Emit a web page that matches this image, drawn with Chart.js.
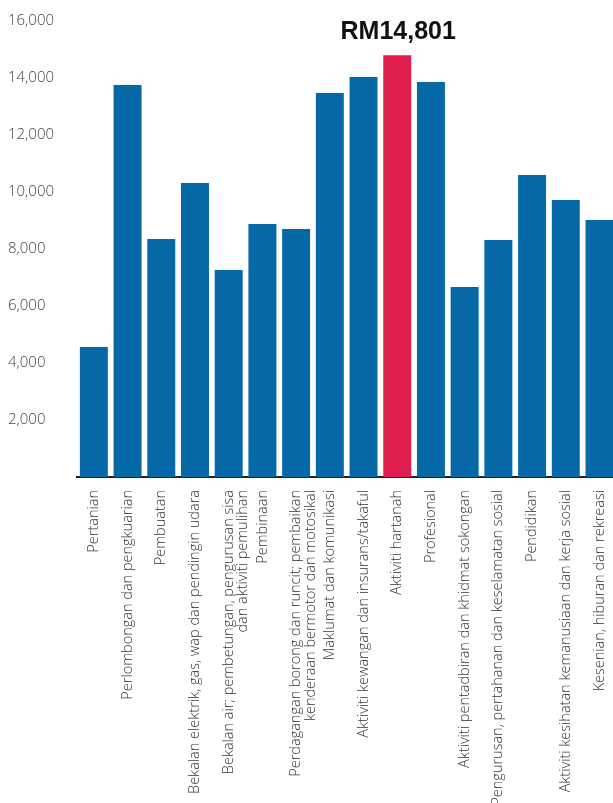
<!DOCTYPE html>
<html>
<head>
<meta charset="utf-8">
<script src="https://cdn.jsdelivr.net/npm/chart.js@4"></script>
<style>
  html, body { margin: 0; padding: 0; background: #fff; overflow: hidden; }
  #chart { display: block; }
</style>
</head>
<body>
<canvas id="chart" width="627" height="803"></canvas>
<script>
const categories = [
  'Pertanian',
  'Perlombongan dan pengkuarian',
  'Pembuatan',
  'Bekalan elektrik, gas, wap dan pendingin udara',
  ['Bekalan air; pembetungan, pengurusan sisa', 'dan aktiviti pemulihan'],
  'Pembinaan',
  ['Perdagangan borong dan runcit; pembaikan', 'kenderaan bermotor dan motosikal'],
  'Maklumat dan komunikasi',
  'Aktiviti kewangan dan insurans/takaful',
  'Aktiviti hartanah',
  'Profesional',
  'Aktiviti pentadbiran dan khidmat sokongan',
  'Pengurusan, pertahanan dan keselamatan sosial',
  'Pendidikan',
  'Aktiviti kesihatan kemanusiaan dan kerja sosial',
  'Kesenian, hiburan dan rekreasi',
];
const wages = [4561, 13754, 8351, 10316, 7263, 8877, 8702, 13474, 14035, 14801, 13860, 6667, 8316, 10596, 9719, 9018];
const highlightIndex = 9;
const yTicks = [0, 2000, 4000, 6000, 8000, 10000, 12000, 14000, 16000];

const blue = '#0569a8';
const red = '#e01d4f';
const colors = wages.map((v, i) => (i === highlightIndex ? red : blue));

// label above the highlighted bar
const highlightLabel = {
  id: 'highlightLabel',
  afterDatasetsDraw(chart) {
    const bar = chart.getDatasetMeta(0).data[highlightIndex];
    const ctx = chart.ctx;
    ctx.save();
    ctx.font = 'bold 25px "Liberation Sans", Arial, sans-serif';
    ctx.fillStyle = '#111';
    ctx.textAlign = 'center';
    ctx.textBaseline = 'alphabetic';
    ctx.fillText('RM' + wages[highlightIndex].toLocaleString('en-US'), bar.x + 1, bar.y - 16);
    ctx.restore();
  },
};

const config = {
  type: 'bar',
  data: {
    labels: categories,
    datasets: [
      {
        data: wages,
        backgroundColor: colors,
        borderWidth: 0,
        barPercentage: 0.83,
        categoryPercentage: 1.0,
      },
    ],
  },
  options: {
    responsive: false,
    animation: false,
    layout: { padding: { top: 21, right: 0, left: 8, bottom: 0 } },
    plugins: {
      legend: { display: false },
      tooltip: { enabled: false },
    },
    scales: {
      x: {
        grid: { display: false, drawTicks: false },
        border: { display: true, color: '#222', width: 2 },
        ticks: {
          minRotation: 90,
          maxRotation: 90,
          autoSkip: false,
          padding: 13,
          color: '#333',
          font: { family: '"Open Sans", Lato, sans-serif', size: 14.5, weight: 300, lineHeight: 1.0 },
        },
        afterFit(scale) {
          scale.height = 326;
        },
      },
      y: {
        min: 0,
        max: 16000,
        afterBuildTicks(scale) {
          scale.ticks = yTicks.map((v) => ({ value: v }));
        },
        grid: { display: false, drawTicks: false },
        border: { display: false },
        ticks: {
          padding: 0,
          crossAlign: 'far',
          color: '#444',
          font: { family: '"Open Sans", Lato, sans-serif', size: 15, weight: 300 },
          callback: (v) => (v === 0 ? '' : v.toLocaleString('en-US')),
        },
        afterFit(scale) {
          scale.width = 69;
        },
      },
    },
  },
  plugins: [highlightLabel],
};

new Chart(document.getElementById('chart'), config);
</script>
</body>
</html>
